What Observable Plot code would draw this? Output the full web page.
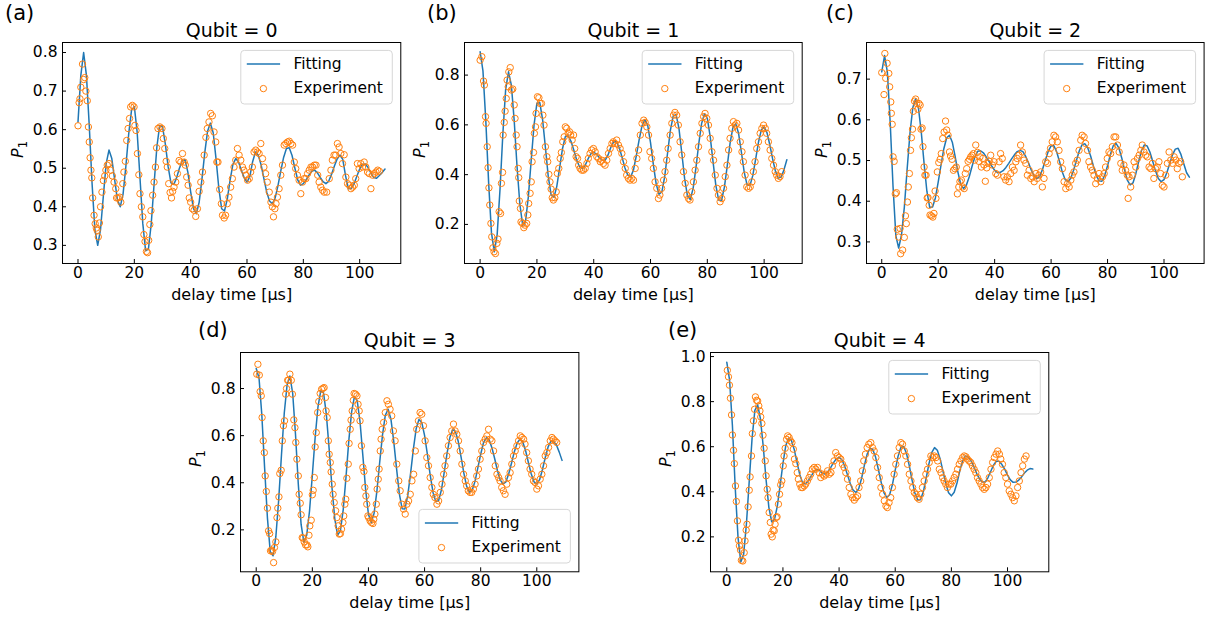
<!DOCTYPE html>
<html>
<head>
<meta charset="utf-8">
<script src="https://cdn.jsdelivr.net/npm/d3@7"></script>
<script src="https://cdn.jsdelivr.net/npm/@observablehq/plot@0.6"></script>
<style>
  html, body { margin: 0; padding: 0; background: #fff; overflow: hidden; }
  #page { position: relative; width: 1213px; height: 619px; background: #fff; }
  #page svg { position: absolute; }
</style>
</head>
<body>
<div id="page"></div>
<script>
// ---------------- DATA ----------------
const xTicks = [0, 20, 40, 60, 80, 100];
const q0YTicks = [0.3, 0.4, 0.5, 0.6, 0.7, 0.8];
const q1YTicks = [0.2, 0.4, 0.6, 0.8];
const q2YTicks = [0.3, 0.4, 0.5, 0.6, 0.7];
const q3YTicks = [0.2, 0.4, 0.6, 0.8];
const q4YTicks = [0.2, 0.4, 0.6, 0.8, 1.0];

const fitDelay = [0,1,2,3,4,5,6,7,8,9,10,11,12,13,14,15,16,17,18,19,20,21,22,23,24,25,26,27,28,29,30,31,32,33,34,35,36,37,38,39,40,41,42,43,44,45,46,47,48,49,50,51,52,53,54,55,56,57,58,59,60,61,62,63,64,65,66,67,68,69,70,71,72,73,74,75,76,77,78,79,80,81,82,83,84,85,86,87,88,89,90,91,92,93,94,95,96,97,98,99,100,101,102,103,104,105,106,107,108,109];

const q0Fitting = [.62,.74,.80,.74,.61,.46,.34,.30,.341,.428,
.512,.547,.525,.471,.418,.40,.433,.505,.589,.65,
.66,.594,.476,.357,.286,.29,.356,.457,.555,.611,
.608,.563,.504,.462,.458,.475,.50,.519,.522,.49,
.439,.395,.382,.411,.471,.54,.596,.617,.592,.525,
.448,.395,.389,.42,.469,.51,.525,.516,.495,.475,
.464,.478,.517,.542,.534,.509,.473,.438,.415,.408,
.423,.455,.493,.528,.551,.553,.533,.50,.47,.456,
.46,.47,.482,.492,.495,.488,.476,.465,.46,.466,
.484,.505,.524,.534,.523,.48,.447,.448,.46,.479,
.498,.51,.511,.502,.487,.476,.474,.481,.489,.498];

const q1Fitting = [.894,.817,.617,.367,.166,.09,.159,.34,.563,.744,
.813,.76,.617,.433,.28,.196,.213,.313,.46,.601,
.687,.69,.621,.508,.392,.319,.309,.353,.428,.504,
.553,.556,.534,.498,.459,.432,.425,.438,.463,.484,
.49,.482,.468,.458,.457,.478,.509,.532,.532,.508,
.469,.427,.398,.391,.419,.476,.541,.596,.62,.599,
.529,.44,.362,.321,.331,.393,.487,.579,.636,.641,
.587,.488,.385,.315,.30,.345,.428,.526,.606,.645,
.626,.554,.453,.357,.298,.297,.349,.434,.526,.589,
.605,.566,.49,.409,.359,.356,.396,.461,.53,.579,
.591,.569,.52,.463,.413,.386,.39,.42,.46];

const q2Fitting = [.718,.758,.717,.593,.436,.315,.285,.317,.385,.479,
.567,.63,.652,.629,.57,.493,.424,.385,.386,.408,
.447,.489,.529,.556,.562,.545,.51,.471,.441,.431,
.44,.46,.486,.509,.523,.524,.519,.509,.498,.486,
.476,.47,.471,.475,.483,.493,.504,.514,.522,.525,
.522,.51,.494,.476,.462,.456,.461,.479,.502,.523,
.536,.536,.521,.497,.471,.453,.448,.457,.477,.501,
.524,.539,.541,.531,.511,.486,.464,.45,.449,.464,
.487,.515,.536,.542,.531,.507,.478,.452,.44,.445,
.467,.497,.524,.538,.536,.521,.498,.474,.456,.448,
.453,.47,.492,.514,.528,.53,.515,.492,.47,.459];

const q3Fitting = [.885,.845,.688,.462,.25,.107,.09,.171,.326,.518,
.696,.815,.853,.78,.606,.394,.223,.147,.178,.28,
.432,.592,.721,.79,.782,.69,.543,.38,.247,.178,
.196,.285,.424,.579,.701,.766,.748,.659,.516,.371,
.266,.231,.27,.363,.486,.602,.686,.712,.671,.578,
.462,.354,.29,.289,.345,.438,.542,.629,.669,.656,
.601,.521,.433,.36,.32,.324,.369,.444,.524,.591,
.626,.618,.576,.51,.441,.385,.36,.369,.407,.464,
.521,.57,.591,.583,.549,.502,.45,.411,.395,.404,
.438,.484,.532,.569,.585,.573,.537,.486,.438,.404,
.395,.413,.455,.506,.551,.576,.575,.56,.53,.495];

const q4Fitting = [.975,.895,.695,.42,.198,.088,.122,.258,.448,.636,
.761,.786,.723,.60,.453,.33,.267,.278,.336,.428,
.525,.604,.638,.629,.589,.531,.476,.44,.435,.448,
.468,.488,.499,.496,.482,.479,.489,.507,.529,.546,
.552,.542,.513,.475,.436,.407,.397,.414,.459,.517,
.567,.594,.588,.554,.499,.442,.395,.375,.387,.432,
.496,.557,.597,.601,.571,.516,.452,.395,.364,.365,
.40,.459,.524,.574,.596,.584,.546,.492,.437,.396,
.382,.398,.439,.493,.537,.559,.554,.537,.511,.482,
.457,.443,.443,.462,.49,.518,.536,.535,.521,.50,
.474,.453,.442,.443,.452,.466,.483,.496,.503,.501];

const q0Experiment = [[0,.61],[0.4,.67],[0.7,.68],[1.0,.71],[1.6,.77],[2.0,.73],[2.4,.735],[2.8,.70],[3.3,.675],[3.7,.607],[4.0,.568],[4.3,.527],[4.6,.495],[4.9,.475],[5.2,.423],[5.7,.378],[6.1,.356],[6.5,.345],[6.8,.339],[7.2,.322],[7.6,.358],[8.0,.40],[8.5,.438],[9.0,.468],[9.5,.48],[9.9,.495],[10.4,.508],[11.0,.512],[11.6,.495],[12.2,.48],[12.8,.464],[13.4,.447],[13.7,.423],[14.2,.423],[14.8,.425],[15.2,.412],[15.9,.46],[16.3,.49],[16.8,.518],[17.3,.572],[17.8,.603],[18.3,.629],[18.7,.659],[19.3,.663],[19.9,.659],[20.2,.611],[20.6,.598],[21.1,.538],[21.6,.483],[22.0,.434],[22.5,.40],[23.0,.374],[23.4,.328],[23.8,.31],[24.3,.284],[24.7,.281],[25.1,.313],[25.5,.354],[25.9,.39],[26.5,.43],[27.0,.464],[27.5,.503],[27.9,.553],[28.4,.603],[29.1,.607],[29.8,.603],[30.3,.577],[30.8,.551],[31.3,.518],[31.7,.503],[32.2,.46],[32.7,.437],[33.2,.423],[33.6,.44],[34.1,.451],[34.7,.464],[35.3,.486],[35.9,.52],[36.5,.516],[37.1,.538],[37.7,.516],[38.1,.508],[38.6,.477],[39.1,.456],[39.5,.423],[40.0,.412],[40.6,.395],[41.2,.391],[41.8,.375],[42.4,.395],[43.0,.44],[43.6,.464],[44.2,.49],[44.8,.534],[45.4,.58],[45.9,.603],[46.5,.62],[47.1,.642],[47.7,.636],[48.3,.594],[48.9,.568],[49.3,.516],[49.7,.516],[50.3,.445],[50.9,.408],[51.3,.378],[51.9,.371],[52.4,.378],[53.0,.408],[53.6,.425],[54.2,.451],[54.8,.473],[55.4,.503],[56.0,.521],[56.6,.551],[57.2,.534],[57.8,.521],[58.4,.503],[58.9,.495],[59.6,.482],[60.2,.469],[60.8,.473],[61.3,.49],[61.9,.503],[62.5,.542],[63.1,.547],[63.7,.542],[64.3,.538],[64.9,.564],[65.5,.525],[66.0,.503],[66.6,.486],[67.2,.464],[67.9,.438],[68.5,.412],[69.0,.40],[69.4,.374],[69.9,.395],[70.3,.408],[70.8,.425],[71.4,.447],[72.0,.482],[72.6,.508],[73.2,.56],[73.8,.564],[74.4,.568],[75.0,.57],[75.6,.564],[76.2,.56],[76.8,.516],[77.3,.499],[77.9,.482],[78.5,.469],[79.1,.434],[79.7,.464],[80.3,.473],[80.9,.473],[81.5,.486],[82.1,.495],[82.7,.503],[83.3,.503],[83.9,.508],[84.5,.508],[85.1,.482],[85.6,.464],[86.2,.451],[86.8,.443],[87.4,.438],[88.3,.438],[89.2,.473],[89.8,.495],[90.3,.521],[90.9,.534],[91.5,.534],[92.1,.564],[92.7,.555],[93.3,.538],[93.9,.512],[94.5,.535],[95.1,.477],[95.7,.46],[96.3,.456],[96.9,.447],[97.5,.451],[98.1,.456],[98.6,.473],[99.2,.512],[99.8,.499],[100.4,.512],[101.0,.503],[101.6,.516],[102.2,.503],[102.8,.49],[103.4,.486],[104.0,.447],[104.6,.482],[105.2,.486],[105.8,.49],[106.4,.495],[107.0,.492]];

const q1Experiment = [[0,.86],[0.6,.874],[1.2,.776],[1.5,.76],[1.9,.633],[2.1,.606],[2.5,.512],[2.8,.428],[3.1,.347],[3.4,.278],[3.8,.204],[4.1,.15],[4.5,.106],[4.9,.09],[5.4,.083],[5.9,.124],[6.3,.141],[6.7,.251],[7.2,.244],[7.5,.365],[7.9,.409],[8.1,.559],[8.5,.61],[8.8,.655],[9.2,.706],[9.5,.78],[9.9,.753],[10.1,.813],[10.6,.83],[11.0,.74],[11.5,.744],[12.0,.68],[12.3,.626],[12.7,.559],[13.0,.512],[13.4,.425],[13.6,.388],[13.8,.294],[14.2,.264],[14.4,.21],[14.9,.204],[15.4,.187],[15.8,.197],[16.4,.204],[16.8,.238],[17.1,.284],[17.6,.325],[18.0,.371],[18.3,.452],[18.8,.489],[19.1,.566],[19.5,.592],[19.7,.646],[20.2,.713],[20.7,.709],[21.1,.686],[21.6,.686],[22.1,.639],[22.5,.599],[23.0,.512],[23.5,.472],[23.8,.452],[24.2,.401],[24.6,.371],[25.0,.342],[25.4,.307],[25.8,.298],[26.3,.307],[26.8,.331],[27.2,.405],[27.7,.425],[28.2,.465],[28.6,.489],[29.1,.532],[29.6,.552],[30.0,.592],[30.5,.586],[31.0,.566],[31.5,.572],[31.9,.559],[32.4,.539],[32.9,.559],[33.3,.505],[33.8,.472],[34.3,.465],[34.7,.438],[35.2,.425],[35.8,.418],[36.4,.418],[37.0,.425],[37.6,.445],[38.1,.465],[38.7,.485],[39.3,.499],[39.9,.505],[40.5,.492],[41.1,.472],[41.7,.465],[42.3,.452],[42.8,.458],[43.4,.445],[44.0,.438],[44.6,.458],[45.2,.485],[45.8,.505],[46.4,.525],[46.9,.532],[47.5,.525],[48.1,.539],[48.7,.519],[49.3,.505],[49.9,.485],[50.5,.452],[51.1,.425],[51.6,.398],[52.2,.385],[52.8,.378],[53.4,.385],[54.0,.378],[54.6,.425],[55.2,.465],[55.8,.499],[56.4,.559],[57.0,.606],[57.6,.619],[58.1,.61],[58.7,.592],[59.3,.559],[59.8,.492],[60.4,.465],[61.0,.425],[61.6,.371],[62.2,.345],[62.8,.304],[63.3,.318],[63.9,.345],[64.6,.378],[65.1,.412],[65.7,.458],[66.2,.505],[66.9,.559],[67.5,.606],[68.1,.639],[68.6,.65],[69.2,.639],[69.8,.599],[70.4,.532],[71.0,.479],[71.6,.412],[72.2,.365],[72.8,.318],[73.4,.304],[73.9,.298],[74.5,.331],[75.1,.371],[75.7,.418],[76.3,.458],[76.9,.512],[77.5,.566],[78.1,.606],[78.7,.633],[79.2,.646],[79.8,.626],[80.4,.599],[81.0,.546],[81.6,.492],[82.2,.458],[82.8,.398],[83.4,.345],[83.9,.318],[84.5,.291],[85.1,.304],[85.7,.345],[86.3,.392],[86.9,.438],[87.5,.499],[88.0,.546],[88.6,.586],[89.2,.613],[89.8,.599],[90.4,.606],[91.0,.579],[91.6,.532],[92.2,.492],[92.7,.452],[93.3,.398],[93.9,.351],[94.5,.345],[95.1,.351],[95.7,.371],[96.2,.412],[96.8,.452],[97.4,.505],[98.0,.532],[98.6,.566],[99.2,.586],[99.8,.599],[100.4,.586],[100.9,.566],[101.5,.532],[102.1,.499],[102.7,.465],[103.3,.438],[103.9,.412],[104.4,.398],[105.0,.385],[105.6,.392],[106.2,.412]];

const q2Experiment = [[0,.716],[0.8,.662],[1.1,.763],[1.4,.702],[1.9,.739],[2.5,.714],[2.8,.681],[3.2,.644],[3.4,.616],[3.7,.589],[4.0,.509],[4.4,.498],[4.8,.418],[5.2,.421],[5.5,.331],[6.0,.312],[6.5,.333],[6.7,.271],[7.4,.28],[8.0,.311],[8.4,.364],[8.7,.345],[9.1,.398],[9.4,.435],[9.8,.468],[10.2,.525],[10.5,.556],[10.9,.577],[11.2,.621],[11.6,.646],[12.0,.651],[12.4,.64],[12.8,.626],[13.2,.64],[13.6,.636],[13.9,.577],[14.3,.58],[14.6,.534],[15.0,.484],[15.3,.464],[15.7,.464],[16.1,.408],[16.4,.409],[16.8,.39],[17.1,.366],[17.6,.364],[18.1,.361],[18.5,.37],[18.9,.425],[19.2,.407],[19.7,.472],[20.2,.495],[20.7,.503],[21.1,.517],[21.6,.554],[22.1,.57],[22.6,.597],[23.0,.575],[23.5,.562],[24.0,.521],[24.4,.511],[24.9,.503],[25.4,.476],[25.9,.48],[26.4,.484],[26.8,.418],[27.3,.435],[27.7,.448],[28.2,.452],[28.7,.435],[29.2,.431],[29.6,.468],[30.1,.48],[30.6,.498],[31.1,.503],[31.5,.509],[32.0,.513],[32.5,.517],[32.9,.501],[33.3,.538],[33.9,.52],[34.4,.498],[34.8,.509],[35.3,.484],[35.8,.505],[36.2,.489],[36.7,.449],[37.2,.482],[37.7,.493],[38.1,.498],[38.6,.513],[39.2,.489],[39.8,.497],[40.4,.468],[41.0,.464],[41.6,.497],[42.1,.517],[42.7,.505],[43.3,.46],[43.9,.452],[44.5,.46],[45.1,.448],[45.7,.468],[46.3,.484],[46.9,.476],[47.5,.497],[48.0,.505],[48.6,.513],[49.2,.538],[49.8,.521],[50.4,.501],[51.0,.493],[51.6,.464],[52.2,.476],[52.8,.456],[53.4,.46],[54.0,.448],[54.6,.468],[55.1,.456],[55.7,.464],[56.3,.472],[56.9,.435],[57.5,.456],[58.1,.497],[58.7,.493],[59.3,.517],[59.8,.53],[60.4,.546],[61.0,.562],[61.6,.558],[62.2,.546],[62.8,.525],[63.4,.497],[64.0,.48],[64.6,.448],[65.2,.431],[65.8,.443],[66.4,.435],[67.0,.452],[67.5,.464],[68.1,.472],[68.7,.493],[69.3,.501],[69.9,.525],[70.5,.55],[71.0,.562],[71.7,.558],[72.2,.542],[72.9,.525],[73.4,.497],[74.0,.484],[74.6,.476],[75.2,.464],[75.8,.443],[76.4,.456],[77.0,.468],[77.6,.448],[78.2,.46],[78.8,.468],[79.3,.484],[79.9,.505],[80.5,.521],[81.1,.517],[81.7,.534],[82.3,.558],[82.9,.558],[83.5,.538],[84.1,.521],[84.7,.493],[85.2,.476],[85.8,.489],[86.4,.476],[87.0,.464],[87.3,.407],[87.6,.46],[88.2,.435],[88.8,.464],[89.4,.497],[90.0,.484],[90.6,.505],[91.2,.513],[91.8,.525],[92.3,.538],[92.9,.521],[93.5,.513],[94.1,.509],[94.7,.484],[95.3,.48],[95.9,.493],[96.4,.456],[97.0,.48],[97.6,.484],[98.2,.497],[98.8,.468],[99.4,.439],[100.0,.435],[100.6,.464],[101.2,.493],[101.8,.521],[102.4,.501],[103.0,.493],[103.6,.509],[104.2,.501],[104.7,.48],[105.3,.493],[105.9,.497],[106.5,.46]];

const q3Experiment = [[0.2,.861],[0.6,.903],[1.1,.857],[1.4,.787],[1.8,.769],[2.1,.677],[2.5,.578],[2.9,.528],[3.2,.429],[3.6,.363],[4.0,.292],[4.4,.196],[4.8,.184],[5.1,.111],[5.5,.114],[5.8,.108],[6.2,.061],[6.5,.125],[7.0,.149],[7.4,.252],[7.7,.292],[8.1,.34],[8.4,.439],[8.9,.453],[9.3,.578],[9.7,.642],[10.1,.663],[10.5,.776],[10.8,.80],[11.2,.835],[11.5,.835],[12.0,.861],[12.5,.835],[12.9,.776],[13.4,.667],[13.8,.634],[14.1,.571],[14.5,.50],[15.0,.429],[15.3,.351],[15.7,.313],[16.0,.264],[16.4,.167],[16.7,.165],[17.1,.149],[17.6,.136],[18.1,.136],[18.4,.128],[18.8,.177],[19.1,.217],[19.6,.241],[20.0,.349],[20.3,.368],[20.7,.422],[21.0,.552],[21.4,.613],[21.9,.698],[22.3,.745],[22.8,.779],[23.3,.797],[23.8,.801],[24.2,.804],[24.7,.762],[24.9,.705],[25.3,.677],[25.7,.578],[26.0,.521],[26.4,.486],[26.7,.446],[27.1,.394],[27.4,.351],[27.8,.316],[28.3,.281],[28.7,.252],[29.2,.217],[29.6,.182],[30.0,.184],[30.4,.203],[30.9,.231],[31.2,.259],[31.6,.309],[31.9,.33],[32.3,.419],[32.8,.479],[33.1,.567],[33.5,.627],[33.8,.666],[34.2,.705],[34.6,.75],[34.9,.779],[35.4,.776],[35.9,.769],[36.3,.733],[36.7,.705],[37.0,.663],[37.5,.557],[38.0,.465],[38.4,.448],[38.7,.38],[39.1,.344],[39.4,.309],[39.8,.259],[40.1,.252],[40.6,.238],[41.1,.231],[41.6,.227],[41.9,.245],[42.3,.267],[42.8,.309],[43.1,.373],[43.5,.415],[43.8,.458],[44.2,.535],[44.5,.585],[44.9,.627],[45.4,.656],[46.0,.698],[46.6,.748],[47.1,.733],[47.7,.712],[48.3,.684],[48.9,.62],[49.5,.578],[50.1,.479],[50.8,.408],[51.3,.366],[51.9,.309],[52.5,.288],[53.1,.267],[53.7,.309],[54.3,.323],[54.9,.351],[55.5,.408],[56.1,.436],[56.7,.535],[57.2,.627],[57.8,.663],[58.4,.698],[59.0,.691],[59.6,.642],[60.2,.578],[60.8,.507],[61.4,.472],[62.0,.422],[62.6,.38],[63.1,.351],[63.7,.337],[64.4,.309],[65.0,.323],[65.6,.359],[66.2,.394],[66.8,.436],[67.3,.472],[67.9,.514],[68.5,.557],[69.1,.592],[69.7,.62],[70.3,.649],[70.9,.62],[71.5,.606],[72.1,.578],[72.7,.535],[73.3,.479],[73.9,.436],[74.5,.408],[75.0,.387],[75.6,.366],[76.2,.359],[76.8,.359],[77.4,.373],[78.0,.394],[78.6,.429],[79.2,.458],[79.8,.50],[80.4,.535],[81.0,.571],[81.6,.585],[82.2,.599],[82.8,.627],[83.4,.585],[84.0,.578],[84.6,.535],[85.2,.472],[85.8,.436],[86.4,.422],[86.9,.408],[87.5,.38],[88.1,.366],[88.7,.351],[89.3,.394],[89.9,.422],[90.5,.443],[91.1,.479],[91.7,.514],[92.3,.535],[92.9,.557],[93.5,.578],[94.1,.599],[94.7,.592],[95.3,.585],[95.8,.564],[96.4,.528],[97.0,.493],[97.6,.458],[98.2,.436],[98.8,.408],[99.4,.401],[100.0,.373],[100.6,.387],[101.2,.415],[101.8,.436],[102.4,.472],[103.0,.514],[103.6,.528],[104.2,.55],[104.8,.578],[105.4,.592],[105.9,.585],[106.5,.578],[107.1,.571]];

const q4Experiment = [[0.2,.939],[0.6,.91],[0.95,.873],[1.3,.815],[1.7,.741],[2.0,.652],[2.4,.584],[2.7,.525],[3.1,.426],[3.4,.357],[3.8,.271],[4.2,.185],[4.5,.16],[4.9,.141],[5.2,.096],[5.7,.093],[6.2,.13],[6.5,.182],[6.9,.23],[7.2,.256],[7.6,.333],[8.0,.407],[8.3,.466],[8.8,.559],[9.1,.658],[9.5,.715],[9.9,.766],[10.2,.821],[10.6,.806],[11.0,.803],[11.4,.781],[11.8,.759],[12.1,.732],[12.5,.703],[12.9,.651],[13.3,.593],[13.7,.537],[14.0,.471],[14.4,.411],[14.7,.374],[15.1,.308],[15.5,.264],[15.8,.212],[16.2,.20],[16.5,.23],[16.9,.227],[17.2,.256],[17.6,.286],[17.9,.289],[18.4,.345],[18.8,.389],[19.2,.431],[19.6,.448],[20.1,.515],[20.4,.559],[20.8,.593],[21.3,.633],[21.7,.648],[22.2,.641],[22.7,.626],[23.2,.618],[23.7,.589],[24.1,.545],[24.6,.525],[25.1,.485],[25.5,.456],[26.0,.434],[26.5,.419],[27.0,.419],[27.6,.426],[28.1,.434],[28.7,.448],[29.3,.463],[29.9,.478],[30.5,.50],[31.1,.508],[31.7,.50],[32.3,.508],[32.9,.485],[33.5,.463],[34.1,.478],[34.7,.47],[35.3,.478],[35.9,.493],[36.5,.478],[37.1,.485],[37.6,.515],[38.2,.537],[38.8,.574],[39.4,.559],[40.0,.552],[40.6,.545],[41.2,.522],[41.8,.508],[42.4,.485],[43.0,.456],[43.6,.419],[44.2,.389],[44.8,.374],[45.4,.363],[46.0,.374],[46.6,.382],[47.1,.419],[47.7,.448],[48.3,.493],[48.8,.537],[49.4,.567],[50.0,.596],[50.6,.611],[51.3,.618],[51.9,.596],[52.5,.581],[53.1,.552],[53.7,.508],[54.3,.463],[54.9,.419],[55.5,.389],[56.1,.36],[56.7,.337],[57.2,.33],[57.8,.352],[58.4,.374],[59.0,.419],[59.6,.478],[60.2,.522],[60.8,.559],[61.4,.596],[62.0,.618],[62.6,.611],[63.2,.581],[63.8,.559],[64.4,.522],[65.0,.478],[65.6,.448],[66.2,.419],[66.8,.397],[67.4,.389],[67.9,.374],[68.5,.367],[69.1,.389],[69.7,.419],[70.3,.448],[70.9,.478],[71.5,.50],[72.1,.53],[72.7,.559],[73.3,.552],[73.9,.559],[74.5,.552],[75.1,.537],[75.7,.50],[76.3,.485],[76.9,.463],[77.4,.448],[78.0,.434],[78.6,.419],[79.2,.434],[79.8,.434],[80.4,.448],[81.0,.463],[81.6,.478],[82.2,.50],[82.8,.522],[83.4,.537],[84.0,.552],[84.6,.559],[85.2,.555],[85.7,.545],[86.3,.537],[86.9,.53],[87.5,.515],[88.1,.50],[88.7,.485],[89.3,.463],[89.9,.448],[90.5,.434],[91.1,.419],[91.7,.411],[92.3,.419],[92.9,.434],[93.5,.463],[94.1,.50],[94.7,.53],[95.3,.552],[95.9,.567],[96.5,.581],[97.1,.567],[97.6,.545],[98.2,.522],[98.8,.485],[99.4,.463],[100.0,.434],[100.6,.404],[101.2,.389],[101.8,.374],[102.4,.36],[103.0,.382],[103.6,.419],[104.2,.448],[104.8,.485],[105.4,.515],[106.0,.545],[106.6,.559]];

const panelTags = ["(a)", "(b)", "(c)", "(d)", "(e)"];
const panelTitles = ["Qubit = 0", "Qubit = 1", "Qubit = 2", "Qubit = 3", "Qubit = 4"];
const legendLabels = ["Fitting", "Experiment"];

// ---------------- LAYOUT ----------------
const FONT = "'DejaVu Sans', 'Liberation Sans', sans-serif";
const BLUE = "#1f77b4", ORANGE = "#ff7f0e";
const layout = [
  {fx: 61.7,  fy: 42.3,  fw: 338.3, fh: 221,   xDomain: [-5.5, 114.6], yDomain: [0.253, 0.826], legend: "top",    tagX: 5,   tagY: 20},
  {fx: 464,   fy: 42.3,  fw: 337.7, fh: 221,   xDomain: [-5.5, 113.4], yDomain: [0.043, 0.931], legend: "top",    tagX: 427, tagY: 20},
  {fx: 865.7, fy: 42.3,  fw: 337.6, fh: 221,   xDomain: [-5.4, 114.2], yDomain: [0.247, 0.790], legend: "top",    tagX: 826, tagY: 20},
  {fx: 240.3, fy: 351.7, fw: 338.4, fh: 219.3, xDomain: [-5.6, 115.0], yDomain: [0.022, 0.953], legend: "bottom", tagX: 198, tagY: 337},
  {fx: 709.7, fy: 351.7, fw: 338.3, fh: 219.3, xDomain: [-5.8, 114.7], yDomain: [0.045, 1.018], legend: "top",    tagX: 668, tagY: 337}
];
const series = [
  {exp: q0Experiment, fit: q0Fitting, yTicks: q0YTicks},
  {exp: q1Experiment, fit: q1Fitting, yTicks: q1YTicks},
  {exp: q2Experiment, fit: q2Fitting, yTicks: q2YTicks},
  {exp: q3Experiment, fit: q3Fitting, yTicks: q3YTicks},
  {exp: q4Experiment, fit: q4Fitting, yTicks: q4YTicks}
];

const page = document.getElementById("page");
const ML = 62, MR = 8, MT = 40, MB = 46;

series.forEach((s, i) => {
  const L = layout[i];
  const W = L.fw + ML + MR, H = L.fh + MT + MB;
  const fitData = s.fit.map((v, k) => ({t: fitDelay[k], p: v}));
  const expData = s.exp.map(([t, p]) => ({t, p}));
  const svg = Plot.plot({
    width: W, height: H,
    marginLeft: ML, marginRight: MR, marginTop: MT, marginBottom: MB,
    style: {fontFamily: FONT, fontSize: "15.5px", color: "#000", background: "transparent", overflow: "visible"},
    x: {domain: L.xDomain},
    y: {domain: L.yDomain},
    marks: [
      Plot.axisX({ticks: xTicks, tickSize: 0, tickPadding: 3, tickFormat: d3.format("d"), label: null}),
      Plot.axisY({ticks: s.yTicks, tickSize: 0, tickPadding: 5, tickFormat: d3.format(".1f"), label: null}),
      Plot.ruleX(xTicks, {x: d => d, insetTop: L.fh - 4, stroke: "#000", strokeWidth: 1}),
      Plot.ruleY(s.yTicks, {y: d => d, insetRight: L.fw - 4, stroke: "#000", strokeWidth: 1}),
      Plot.lineY(fitData, {x: "t", y: "p", stroke: BLUE, strokeWidth: 1.5}),
      Plot.dot(expData, {x: "t", y: "p", r: 3.2, stroke: ORANGE, strokeWidth: 1, fill: "none"}),
      Plot.frame({stroke: "#000", strokeWidth: 1}),
      Plot.text([panelTitles[i]], {text: d => d, frameAnchor: "top", dy: -12, fontSize: 19, lineAnchor: "middle"}),
      Plot.text(["delay time [µs]"], {text: d => d, frameAnchor: "bottom", dy: 31, fontSize: 16, lineAnchor: "middle"})
    ]
  });
  svg.style.left = (L.fx - ML) + "px";
  svg.style.top = (L.fy - MT) + "px";
  const g = d3.select(svg);

  // y label P_1
  const yl = g.append("text")
    .attr("transform", `translate(${ML - 38.6},${MT + L.fh / 2 - 3}) rotate(-90)`)
    .attr("text-anchor", "middle")
    .attr("font-family", FONT).attr("font-size", 16).attr("fill", "#000");
  yl.append("tspan").attr("font-style", "italic").text("P");
  yl.append("tspan").attr("font-size", 11.5).attr("dy", 3.5).text("1");

  // legend
  const bw = 151.5, bh = 53.6;
  const bx = ML + L.fw - 8 - bw;
  const by = L.legend === "top" ? MT + 8.4 : MT + L.fh - 8.3 - bh;
  const lg = g.append("g").attr("font-family", FONT).attr("font-size", 15.5).attr("text-anchor", "start");
  lg.append("rect").attr("x", bx).attr("y", by).attr("width", bw).attr("height", bh)
    .attr("rx", 3.5).attr("fill", "#fff").attr("fill-opacity", 0.8).attr("stroke", "#d6d6d6").attr("stroke-width", 1);
  lg.append("line").attr("x1", bx + 6).attr("x2", bx + 39.3).attr("y1", by + 13.6).attr("y2", by + 13.6)
    .attr("stroke", BLUE).attr("stroke-width", 1.5);
  lg.append("circle").attr("cx", bx + 22.6).attr("cy", by + 38.2).attr("r", 3.2)
    .attr("fill", "none").attr("stroke", ORANGE).attr("stroke-width", 1);
  lg.append("text").attr("x", bx + 52.6).attr("y", by + 18.5).attr("text-anchor", "start").attr("fill", "#000").text(legendLabels[0]);
  lg.append("text").attr("x", bx + 52.6).attr("y", by + 42.5).attr("text-anchor", "start").attr("fill", "#000").text(legendLabels[1]);

  page.appendChild(svg);
});

// panel tags
const tagSvg = d3.select(page).append("svg")
  .attr("width", 1213).attr("height", 619)
  .style("left", "0px").style("top", "0px").style("pointer-events", "none");
layout.forEach((L, i) => {
  tagSvg.append("text").attr("x", L.tagX).attr("y", L.tagY)
    .attr("font-family", FONT).attr("font-size", 21).attr("fill", "#000").text(panelTags[i]);
});
</script>
</body>
</html>
